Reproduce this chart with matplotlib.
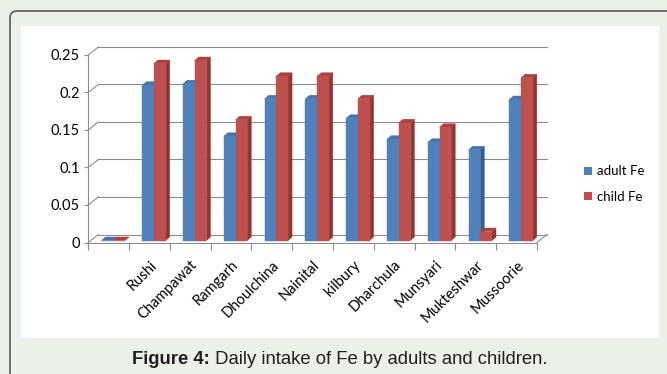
import matplotlib
matplotlib.use("Agg")
import matplotlib.pyplot as plt
from matplotlib.patches import Polygon, Rectangle, FancyBboxPatch, Patch
from matplotlib.transforms import ScaledTranslation, IdentityTransform
from matplotlib import font_manager
import numpy as np

# ---- data -------------------------------------------------------------
sites = ["", "Rushi", "Champawat", "Ramgarh", "Dhoulchina", "Nainital",
         "kilbury", "Dharchula", "Munsyari", "Mukteshwar", "Mussoorie"]
adult_fe = [0.0, 0.207, 0.209, 0.139, 0.189, 0.189, 0.163, 0.135, 0.131, 0.121, 0.188]
child_fe = [0.0, 0.236, 0.240, 0.161, 0.219, 0.219, 0.189, 0.157, 0.151, 0.012, 0.217]
series_names = ["adult Fe", "child Fe"]
y_ticks = [0, 0.05, 0.1, 0.15, 0.2, 0.25]
y_tick_labels = ["0", "0.05", "0.1", "0.15", "0.2", "0.25"]
caption_bold = "Figure 4:"
caption_rest = " Daily intake of Fe by adults and children."

# ---- style ------------------------------------------------------------
front_cols = ["#4F81BD", "#C0504D"]
side_cols = ["#385D8A", "#8C3836"]
top_cols = ["#4673AC", "#B0403D"]
grid_col = "#8C8C8C"
chart_font = "Lato"
avail = {f.name for f in font_manager.fontManager.ttflist}
cap_font = "Liberation Sans Narrow" if "Liberation Sans Narrow" in avail else "Liberation Sans"

W, H, DPI = 667, 374, 100
fig = plt.figure(figsize=(W / DPI, H / DPI), dpi=DPI)
fig.patch.set_facecolor("#ECF1E7")

# outer rounded frame and white chart panel (pixel coordinates)
fig.add_artist(FancyBboxPatch((10, -20), 700, 374 - 11 + 20,
                              boxstyle="round,pad=0,rounding_size=7",
                              transform=IdentityTransform(),
                              facecolor="#ECF1E7", edgecolor="#6E6E6E", lw=1.4,
                              zorder=-3))
fig.add_artist(Rectangle((21, H - 338), 638, 312, transform=IdentityTransform(),
                         facecolor="white", edgecolor="none", zorder=-2))

# ---- axes (front plane of the 3-D box) -------------------------------
ax_l, ax_r, ax_t, ax_b = 88.3, 537.0, 55.0, 242.5
ax = fig.add_axes([ax_l / W, (H - ax_b) / H, (ax_r - ax_l) / W, (ax_b - ax_t) / H])
ax.patch.set_alpha(0)
n = len(sites)
ax.set_xlim(-0.5, n - 0.5)
ax.set_ylim(0, 0.25)

ppx = (ax_r - ax_l) / n          # pixels per category
ppy = (ax_b - ax_t) / 0.25        # pixels per unit value

# back wall offset
bdx, bdy = 10 / ppx, 8 / ppy
for v in y_ticks:
    ax.plot([-0.5 + bdx, n - 0.5 + bdx], [v + bdy] * 2, color=grid_col, lw=0.8,
            clip_on=False, zorder=1)
    ax.plot([-0.5, -0.5 + bdx], [v, v + bdy], color=grid_col, lw=0.8,
            clip_on=False, zorder=1)
ax.plot([n - 0.5, n - 0.5 + bdx], [0, bdy], color=grid_col, lw=0.8,
        clip_on=False, zorder=1)

for side in ["top", "right"]:
    ax.spines[side].set_visible(False)
for side in ["left", "bottom"]:
    ax.spines[side].set_color(grid_col)
    ax.spines[side].set_linewidth(0.8)

ax.set_yticks(y_ticks)
ax.set_yticklabels(y_tick_labels, fontfamily=chart_font, fontsize=10.5)
ax.tick_params(axis="y", length=3, width=0.8, color=grid_col, pad=3)
ax.set_xticks(np.arange(-0.5, n, 1.0))
ax.set_xticklabels([])
ax.tick_params(axis="x", which="major", length=5, width=0.8, color=grid_col)
ax.set_xticks(np.arange(n), minor=True)
ax.set_xticklabels(sites, minor=True, rotation=45, ha="right",
                   rotation_mode="anchor", fontfamily=chart_font, fontsize=10.5)
ax.tick_params(axis="x", which="minor", length=0, pad=11)

# ---- 3-D style columns ----------------------------------------------
shift = ax.transData + ScaledTranslation(4.5 / DPI, 2 / DPI, fig.dpi_scale_trans)
bw = 11.7 / ppx
ddx, ddy = 4 / ppx, 3.5 / ppy
for i in range(n):
    for s, vals in enumerate([adult_fe, child_fe]):
        h = vals[i]
        x0 = i + (s - 1) * bw
        z = 3 + 0.01 * (2 * i + s)
        ax.bar(x0, h, width=bw, align="edge", color=front_cols[s],
               edgecolor=front_cols[s], lw=0.3, transform=shift, zorder=z + 0.002,
               clip_on=False)
        x1 = x0 + bw
        ax.add_patch(Polygon([(x1, 0), (x1, h), (x1 + ddx, h + ddy), (x1 + ddx, ddy)],
                             closed=True, facecolor=side_cols[s], edgecolor=side_cols[s],
                             lw=0.3, transform=shift, zorder=z, clip_on=False))
        ax.add_patch(Polygon([(x0, h), (x1, h), (x1 + ddx, h + ddy), (x0 + ddx, h + ddy)],
                             closed=True, facecolor=top_cols[s], edgecolor=top_cols[s],
                             lw=0.3, transform=shift, zorder=z + 0.001, clip_on=False))

# ---- legend ----------------------------------------------------------
handles = [Patch(facecolor=c, edgecolor="none") for c in front_cols]
fig.legend(handles, series_names, loc="center left",
           bbox_to_anchor=(584 / W, 1 - 184 / H), frameon=False,
           prop={"family": chart_font, "size": 9.5}, handlelength=0.6,
           handleheight=0.6, handletextpad=0.4, labelspacing=1.0,
           borderpad=0, borderaxespad=0)

# ---- caption ---------------------------------------------------------
renderer = fig.canvas.get_renderer()
cap_y = 1 - 359 / H
cap_size = 14 if cap_font.endswith("Narrow") else 13.3
t1 = fig.text(0, cap_y, caption_bold, fontfamily=cap_font, fontweight="bold",
              fontsize=cap_size, color="#231F20", va="center", ha="left")
t2 = fig.text(0, cap_y, caption_rest, fontfamily=cap_font,
              fontsize=cap_size, color="#231F20", va="center", ha="left")
w1 = t1.get_window_extent(renderer).width
w2 = t2.get_window_extent(renderer).width
start = 340 - (w1 + w2) / 2
t1.set_x(start / W)
t2.set_x((start + w1) / W)

fig.savefig("out.png", dpi=DPI, facecolor=fig.get_facecolor())
